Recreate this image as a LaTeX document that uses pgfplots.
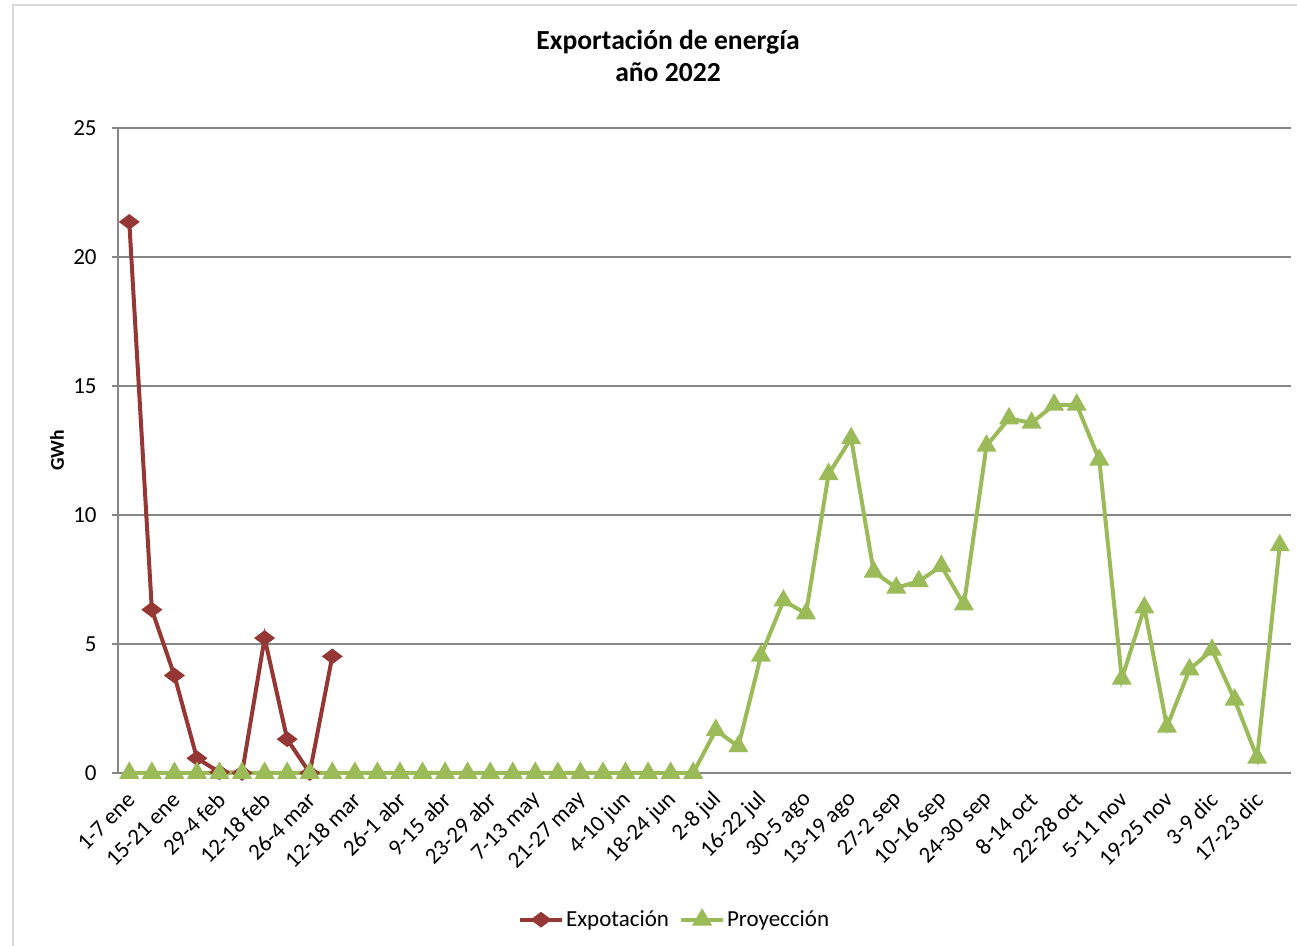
\documentclass[border=0pt]{standalone}
\usepackage{pgfplots}
\pgfplotsset{compat=1.18}
\usepackage{fontspec}
\setmainfont{Carlito}
\definecolor{expred}{HTML}{953735}
\definecolor{proygreen}{HTML}{9BBB59}
\definecolor{gridgray}{HTML}{868686}
\definecolor{framegray}{HTML}{D9D9D9}

\pgfplotstableread{
x y
0 21.36
1 6.33
2 3.78
3 0.57
4 0.03
5 0
6 5.23
7 1.31
8 0
9 4.52
}\exportacion

\pgfplotstableread{
x y
0 0
1 0
2 0
3 0
4 0
5 0
6 0
7 0
8 0
9 0
10 0
11 0
12 0
13 0
14 0
15 0
16 0
17 0
18 0
19 0
20 0
21 0
22 0
23 0
24 0
25 0
26 1.66
27 1.03
28 4.54
29 6.68
30 6.18
31 11.58
32 12.97
33 7.8
34 7.18
35 7.43
36 8.02
37 6.53
38 12.68
39 13.74
40 13.57
41 14.27
42 14.27
43 12.14
44 3.65
45 6.41
46 1.79
47 4.01
48 4.77
49 2.84
50 0.59
51 8.82
}\proyeccion

\begin{document}
\begin{tikzpicture}
\useasboundingbox (-59pt,-86.5pt) rectangle (589.5pt,386.5pt);
\draw[framegray, line width=1pt] (-52.5pt,-86.5pt) -- (-52.5pt,384pt) -- (589.5pt,384pt);
\begin{axis}[
  at={(0pt,0pt)}, anchor=south west,
  scale only axis, width=586.5pt, height=322.5pt,
  xmin=-0.5, xmax=51.5, ymin=0, ymax=25,
  clip=false,
  axis y line*=left, axis x line*=bottom,
  axis line style={draw=gridgray, line width=1pt},
  ymajorgrids, grid style={draw=gridgray, line width=1pt},
  ytick={0,5,...,25},
  xtick={0,2,...,50},
  xticklabels={1-7 ene, 15-21 ene, 29-4 feb, 12-18 feb, 26-4 mar, 12-18 mar, 26-1 abr, 9-15 abr, 23-29 abr, 7-13 may, 21-27 may, 4-10 jun, 18-24 jun, 2-8 jul, 16-22 jul, 30-5 ago, 13-19 ago, 27-2 sep, 10-16 sep, 24-30 sep, 8-14 oct, 22-28 oct, 5-11 nov, 19-25 nov, 3-9 dic, 17-23 dic},
  xtick style={draw=none},
  ytick style={draw=gridgray, line width=1pt},
  tick align=outside,
  major tick length=3pt,
  /pgf/number format/assume math mode=true,
  tick label style={font=\fontsize{11.5}{13}\selectfont},
  yticklabel style={anchor=east, inner sep=0pt, xshift=-7.5pt},
  xticklabel style={xshift=1pt, yshift=-8.5pt, rotate=45, anchor=east, inner sep=0pt},
  title={Exportación de energía\\año 2022},
  title style={at={(0.4689,1.093)}, anchor=center, align=center, font=\bfseries\fontsize{13.8}{16}\selectfont},
  ylabel={GWh},
  ylabel style={at={(-0.052,0.5)}, anchor=center, font=\bfseries\fontsize{9.8}{11}\selectfont},
  legend style={at={(0.4745,-0.2275)}, anchor=center, draw=none, fill=none,
    font=\fontsize{11.5}{13}\selectfont, nodes={inner sep=1pt},
    /tikz/every even column/.append style={column sep=4pt}},
  legend columns=2,
  legend image code/.code={\draw[mark repeat=2,mark phase=2] plot coordinates {(0pt,0pt) (10.5pt,0pt) (21pt,0pt)};},
]
\addplot[expred, line width=2pt, mark=diamond*, mark size=3.6pt, mark options={rotate=90, solid, fill=expred}] table[x=x,y=y] {\exportacion};
\addlegendentry{Expotación}
\addplot[proygreen, line width=2pt, mark=triangle*, mark size=3.8pt, mark options={solid, fill=proygreen}] table[x=x,y=y] {\proyeccion};
\addlegendentry{Proyección}
\end{axis}
\end{tikzpicture}
\end{document}
